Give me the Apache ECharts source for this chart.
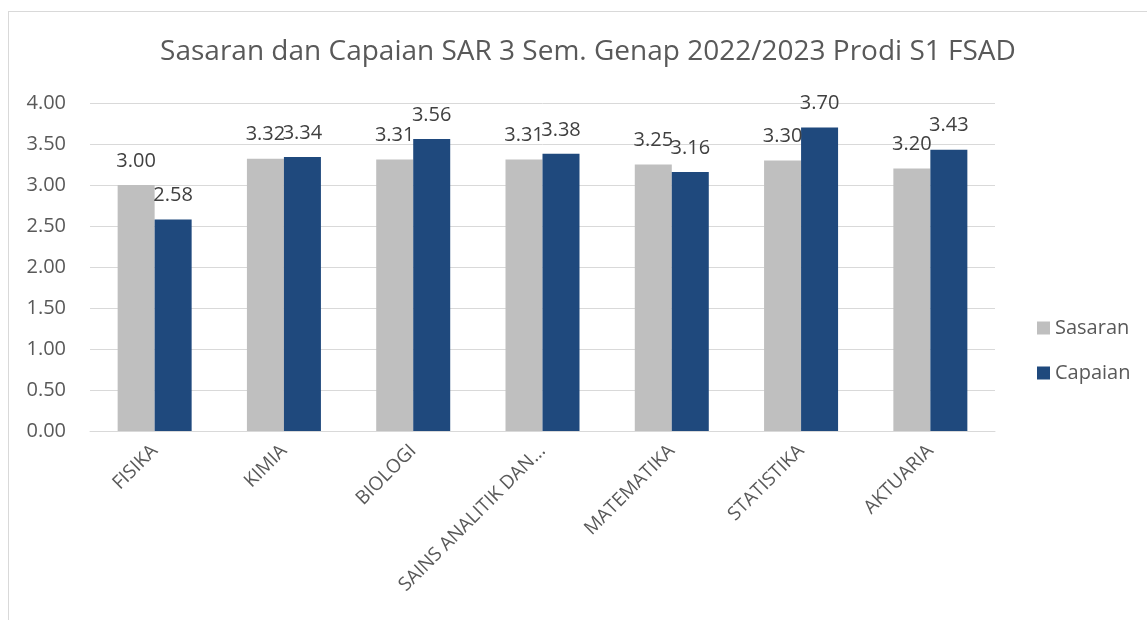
<!DOCTYPE html>
<html>
<head>
<meta charset="utf-8">
<script src="https://cdn.jsdelivr.net/npm/echarts@6/dist/echarts.min.js"></script>
<style>
  html, body { margin: 0; padding: 0; background: #fff; overflow: hidden; }
  #frame { position: absolute; left: 8px; top: 11px; width: 1300px; height: 800px; border: 1px solid #d9d9d9; box-sizing: border-box; }
  #chart { position: absolute; left: 0; top: 0; width: 1147px; height: 620px; }
</style>
</head>
<body>
<div id="frame"></div>
<div id="chart"></div>
<script>
const titleText = 'Sasaran dan Capaian SAR 3 Sem. Genap 2022/2023 Prodi S1 FSAD';
const categories = ['FISIKA', 'KIMIA', 'BIOLOGI', 'SAINS ANALITIK DAN...', 'MATEMATIKA', 'STATISTIKA', 'AKTUARIA'];
const sasaran = [3.00, 3.32, 3.31, 3.31, 3.25, 3.30, 3.20];
const capaian = [2.58, 3.34, 3.56, 3.38, 3.16, 3.70, 3.43];
const seriesNames = ['Sasaran', 'Capaian'];

const font = '"Open Sans", "Noto Sans", sans-serif';
const chart = echarts.init(document.getElementById('chart'), null, { renderer: 'canvas' });
const labelCfg = {
  show: true, position: 'top', distance: 14,
  color: '#404040', fontSize: 20, fontFamily: font,
  formatter: p => p.value.toFixed(2)
};
chart.setOption({
  animation: false,
  backgroundColor: 'transparent',
  title: {
    text: titleText, left: 583, top: 33, textAlign: 'center',
    textStyle: { color: '#595959', fontSize: 28, fontWeight: 'normal', fontFamily: font }
  },
  legend: {
    orient: 'vertical', left: 1032, top: 313, itemGap: 25,
    itemWidth: 13, itemHeight: 13, icon: 'rect', itemStyle: { borderWidth: 0 },
    textStyle: { color: '#595959', fontSize: 20, fontFamily: font },
    data: seriesNames
  },
  grid: { left: 90, right: 152, top: 103, bottom: 189, containLabel: false },
  xAxis: {
    type: 'category', data: categories,
    axisLine: { lineStyle: { color: '#d9d9d9', width: 1 } },
    axisTick: { show: false },
    axisLabel: { rotate: 45, interval: 0, margin: 17, color: '#595959', fontSize: 19, fontFamily: font }
  },
  yAxis: {
    type: 'value', min: 0, max: 4, interval: 0.5,
    axisLine: { show: false }, axisTick: { show: false },
    splitLine: { lineStyle: { color: '#d9d9d9', width: 1 } },
    axisLabel: { margin: 24, color: '#595959', fontSize: 20, fontFamily: font, formatter: v => v.toFixed(2) }
  },
  series: [
    { name: seriesNames[0], type: 'bar', data: sasaran, barWidth: 37, barGap: '0%',
      itemStyle: { color: '#bfbfbf' }, label: labelCfg },
    { name: seriesNames[1], type: 'bar', data: capaian, barWidth: 37, barGap: '0%',
      itemStyle: { color: '#1f497d' }, label: labelCfg }
  ]
});
</script>
</body>
</html>
